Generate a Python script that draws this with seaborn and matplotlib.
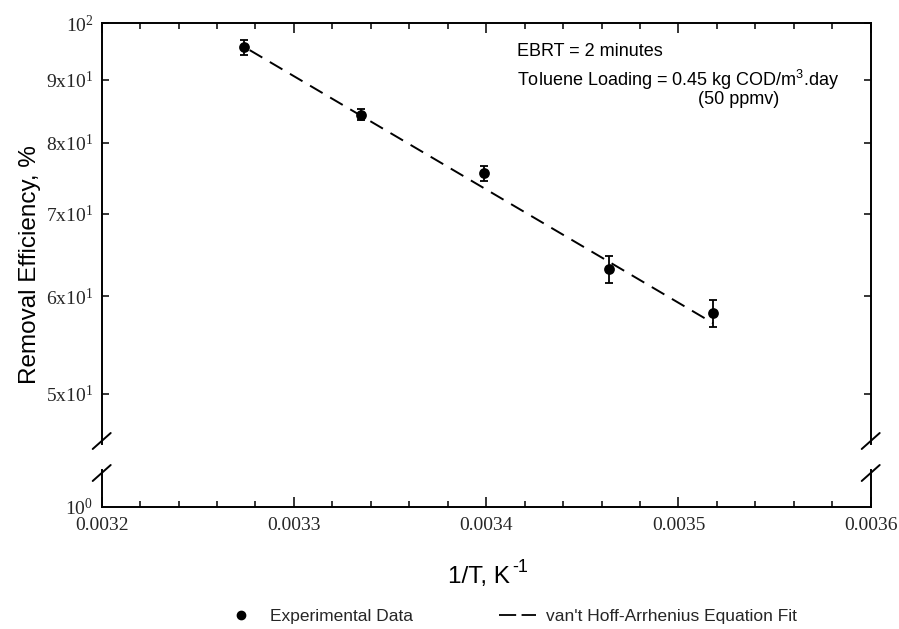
import numpy as np
import pandas as pd
import matplotlib
matplotlib.use("Agg")
import matplotlib.pyplot as plt
from matplotlib.lines import Line2D
from matplotlib.ticker import FixedLocator, FixedFormatter, MultipleLocator, NullLocator
import seaborn as sns

# ---- data ----
inv_T = [0.003274, 0.003335, 0.003399, 0.003464, 0.003518]
removal = [95.6, 84.3, 75.5, 63.1, 58.1]
removal_err = [1.3, 0.9, 1.0, 1.55, 1.45]
fit_inv_T = [0.003277, 0.003518]
fit_removal = [95.1, 57.05]

y_ticks = [50, 60, 70, 80, 90, 100]
y_tick_labels = ["5x10$^{1}$", "6x10$^{1}$", "7x10$^{1}$", "8x10$^{1}$", "9x10$^{1}$", "10$^{2}$"]
x_ticks = [0.0032, 0.0033, 0.0034, 0.0035, 0.0036]
x_tick_labels = ["0.0032", "0.0033", "0.0034", "0.0035", "0.0036"]

sns.set_theme(style="white")
plt.rcParams["font.family"] = ["Liberation Sans", "DejaVu Sans"]
plt.rcParams["mathtext.default"] = "regular"

W, H = 899, 629
fig = plt.figure(figsize=(W / 100, H / 100), dpi=100)
fig.patch.set_facecolor("white")

def fx(px):
    return px / W

def fy(py):
    return 1 - py / H

left, right = 101.7, 870.7
top_top, top_bot = 23.3, 444.0
bot_top, bot_bot = 470.0, 507.0

ax = fig.add_axes([fx(left), fy(top_bot), fx(right - left), (top_bot - top_top) / H])
axb = fig.add_axes([fx(left), fy(bot_bot), fx(right - left), (bot_bot - bot_top) / H])

df = pd.DataFrame({"inv_T": inv_T, "removal": removal, "err": removal_err})
fit_df = pd.DataFrame({"inv_T": fit_inv_T, "removal": fit_removal})

ax.set_yscale("log")
ax.errorbar(df["inv_T"], df["removal"], yerr=df["err"], fmt="none",
            ecolor="black", elinewidth=1.3, capsize=2.6, capthick=1.3, zorder=3)
sns.scatterplot(data=df, x="inv_T", y="removal", ax=ax, color="black",
                s=60, marker="o", edgecolor="black", linewidth=0, zorder=4, legend=False)
sns.lineplot(data=fit_df, x="inv_T", y="removal", ax=ax, color="black",
             linewidth=1.4, linestyle=(0, (7.5, 4.5)), zorder=2, legend=False)

serif = ["Liberation Serif", "DejaVu Serif"]

for a in (ax, axb):
    a.set_xlim(0.0032, 0.0036)
    a.set_xlabel("")
    a.set_ylabel("")
    for s in a.spines.values():
        s.set_color("black")
        s.set_linewidth(1.4)

ax.set_ylim(45.5, 100)
ax.yaxis.set_major_locator(FixedLocator(y_ticks))
ax.yaxis.set_major_formatter(FixedFormatter(y_tick_labels))
ax.yaxis.set_minor_locator(NullLocator())
ax.xaxis.set_major_locator(FixedLocator(x_ticks))
ax.xaxis.set_minor_locator(MultipleLocator(0.00002))
ax.spines["bottom"].set_visible(False)
ax.tick_params(axis="x", which="both", direction="in", bottom=False, top=True,
               labelbottom=False, color="black", width=1.1)
ax.tick_params(axis="x", which="major", length=7)
ax.tick_params(axis="x", which="minor", length=4)
ax.tick_params(axis="y", which="major", direction="in", left=True, right=True,
               length=5, width=1.1, color="black", pad=6, labelsize=14)
for lab in ax.get_yticklabels():
    lab.set_fontfamily(serif)

axb.set_yscale("log")
axb.set_ylim(1, 1.072)
axb.yaxis.set_major_locator(FixedLocator([1]))
axb.yaxis.set_major_formatter(FixedFormatter(["10$^{0}$"]))
axb.yaxis.set_minor_locator(NullLocator())
axb.spines["top"].set_visible(False)
axb.xaxis.set_major_locator(FixedLocator(x_ticks))
axb.xaxis.set_major_formatter(FixedFormatter(x_tick_labels))
axb.xaxis.set_minor_locator(MultipleLocator(0.00002))
axb.tick_params(axis="x", which="both", direction="in", bottom=True, top=False,
                color="black", width=1.1, pad=7, labelsize=14)
axb.tick_params(axis="x", which="major", length=7)
axb.tick_params(axis="x", which="minor", length=4)
axb.tick_params(axis="y", which="major", direction="in", left=False, right=False,
                pad=6, labelsize=14)
for lab in axb.get_xticklabels() + axb.get_yticklabels():
    lab.set_fontfamily(serif)

# break marks
for xpx in (left, right):
    for ycen in (top_bot - 3, bot_top + 3):
        fig.add_artist(Line2D([fx(xpx - 9), fx(xpx + 9)], [fy(ycen + 8), fy(ycen - 8)],
                              transform=fig.transFigure, color="black", lw=1.4))

# axis labels
fig.text(fx(30), fy(265), "Removal Efficiency, %", rotation=90, ha="center", va="center",
         fontsize=17.5, color="black")
fig.text(fx(510), fy(577), "1/T, K", ha="right", va="center", fontsize=17.5, color="black")
fig.text(fx(512), fy(568), "-1", ha="left", va="center", fontsize=13, color="black")

# annotations
fig.text(fx(517), fy(52), "EBRT = 2 minutes", ha="left", va="center", fontsize=13, color="black")
fig.text(fx(517), fy(80), "Toluene Loading = 0.45 kg COD/m$^{3}$.day", ha="left", va="center",
         fontsize=13, color="black")
fig.text(fx(739), fy(99), "(50 ppmv)", ha="center", va="center", fontsize=13, color="black")

# legend
handles = [
    Line2D([], [], color="black", marker="o", linestyle="none", markersize=6),
    Line2D([], [], color="black", linestyle=(0, (9.5, 3)), linewidth=1.3),
]
fig.legend(handles, ["Experimental Data", "van't Hoff-Arrhenius Equation Fit"],
           loc="center", bbox_to_anchor=(fx(510), fy(616)), ncol=2, frameon=False,
           fontsize=12.5, handlelength=2.1, handletextpad=0.6, columnspacing=5.0)

fig.savefig("out.png", dpi=100, facecolor="white")
